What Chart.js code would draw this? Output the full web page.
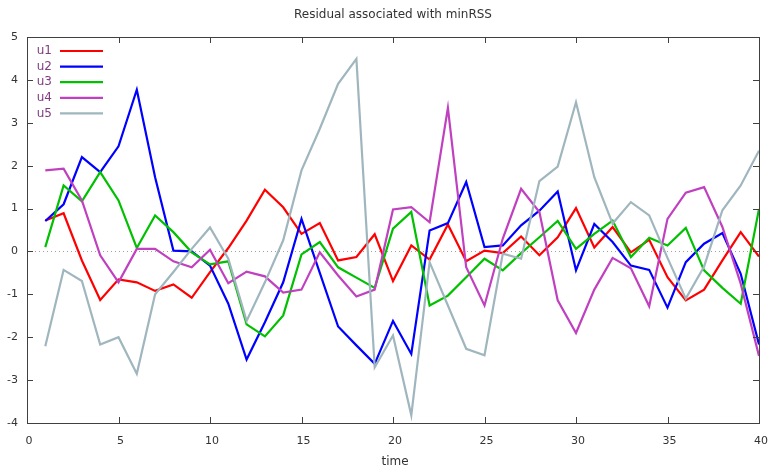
<!DOCTYPE html>
<html>
<head>
<meta charset="utf-8">
<script src="https://cdn.jsdelivr.net/npm/chart.js@4/dist/chart.umd.min.js"></script>
<style>
  html, body { margin: 0; padding: 0; background: #ffffff; }
  #wrap { width: 775px; height: 469px; position: relative; }
</style>
</head>
<body>
<div id="wrap"><canvas id="c" width="775" height="469"></canvas></div>
<script>
const chartTitle = "Residual associated with minRSS";
const xAxisTitle = "time";
const time = [1,2,3,4,5,6,7,8,9,10,11,12,13,14,15,16,17,18,19,20,21,22,23,24,25,26,27,28,29,30,31,32,33,34,35,36,37,38,39,40];
const seriesNames = ["u1", "u2", "u3", "u4", "u5"];
const u1 = [0.72, 0.89, -0.21, -1.13, -0.65, -0.72, -0.92, -0.77, -1.08, -0.48, 0.08, 0.72, 1.44, 1.03, 0.41, 0.66, -0.21, -0.13, 0.40, -0.69, 0.14, -0.19, 0.63, -0.23, 0.02, -0.04, 0.35, -0.09, 0.33, 1.01, 0.09, 0.57, -0.02, 0.27, -0.60, -1.14, -0.89, -0.21, 0.45, -0.12];
const u2 = [0.71, 1.10, 2.20, 1.85, 2.45, 3.77, 1.73, 0.02, 0.00, -0.33, -1.22, -2.52, -1.65, -0.72, 0.76, -0.50, -1.75, -2.19, -2.62, -1.62, -2.39, 0.49, 0.66, 1.62, 0.10, 0.14, 0.61, 0.95, 1.40, -0.44, 0.64, 0.22, -0.33, -0.43, -1.31, -0.25, 0.18, 0.43, -0.52, -2.17];
const u3 = [0.10, 1.54, 1.17, 1.85, 1.19, 0.08, 0.84, 0.45, -0.02, -0.30, -0.23, -1.70, -1.98, -1.49, -0.07, 0.22, -0.37, -0.61, -0.85, 0.53, 0.92, -1.26, -1.03, -0.60, -0.17, -0.44, -0.04, 0.33, 0.71, 0.06, 0.41, 0.72, -0.13, 0.32, 0.14, 0.55, -0.44, -0.85, -1.22, 0.99];
const u4 = [1.89, 1.93, 1.19, -0.09, -0.72, 0.06, 0.06, -0.23, -0.37, 0.04, -0.74, -0.47, -0.58, -0.96, -0.89, -0.02, -0.56, -1.05, -0.89, 0.98, 1.03, 0.68, 3.35, -0.37, -1.26, 0.30, 1.46, 0.92, -1.14, -1.90, -0.89, -0.15, -0.39, -1.28, 0.76, 1.37, 1.50, 0.57, -0.75, -2.44];
const u5 = [-2.21, -0.43, -0.69, -2.17, -2.00, -2.85, -1.00, -0.48, 0.06, 0.56, -0.17, -1.62, -0.72, 0.26, 1.89, 2.86, 3.91, 4.49, -2.70, -1.96, -3.82, -0.25, -1.26, -2.27, -2.42, -0.05, -0.17, 1.64, 1.98, 3.48, 1.73, 0.65, 1.15, 0.84, -0.15, -1.10, -0.35, 0.96, 1.54, 2.35];
const seriesColors = ["#ff0000", "#0000ff", "#00c000", "#c040c0", "#a0b6be"];
const xTicks = [0, 5, 10, 15, 20, 25, 30, 35, 40];
const yTicks = [-4, -3, -2, -1, 0, 1, 2, 3, 4, 5];

const allSeries = [u1, u2, u3, u4, u5];
const FONT = "'DejaVu Sans', Verdana, sans-serif";
const TEXT = "#333333";

const datasets = allSeries.map((vals, i) => ({
  label: seriesNames[i],
  data: vals.map((v, j) => ({ x: time[j], y: v })),
  borderColor: seriesColors[i],
  backgroundColor: seriesColors[i],
  borderWidth: 2.2,
  pointRadius: 0,
  tension: 0,
  fill: false,
  order: allSeries.length - i
}));

const decor = {
  id: 'decor',
  beforeDatasetsDraw(chart) {
    const { ctx, chartArea: a, scales: { y } } = chart;
    const y0 = Math.round(y.getPixelForValue(0)) + 0.5;
    ctx.save();
    ctx.strokeStyle = '#a0a0a0';
    ctx.lineWidth = 1;
    ctx.setLineDash([1, 3]);
    ctx.beginPath();
    ctx.moveTo(a.left, y0);
    ctx.lineTo(a.right, y0);
    ctx.stroke();
    ctx.restore();
  },
  afterDraw(chart) {
    const { ctx, chartArea: a, scales: { x, y } } = chart;
    ctx.save();
    ctx.strokeStyle = '#404040';
    ctx.lineWidth = 1;
    ctx.setLineDash([]);
    ctx.strokeRect(Math.round(a.left) + 0.5, Math.round(a.top) + 0.5, Math.round(a.right - a.left), Math.round(a.bottom - a.top));
    const tl = 6;
    ctx.beginPath();
    xTicks.forEach(v => {
      const px = Math.round(x.getPixelForValue(v)) + 0.5;
      ctx.moveTo(px, a.bottom); ctx.lineTo(px, a.bottom - tl);
      ctx.moveTo(px, a.top); ctx.lineTo(px, a.top + tl);
    });
    yTicks.forEach(v => {
      const py = Math.round(y.getPixelForValue(v)) + 0.5;
      ctx.moveTo(a.left, py); ctx.lineTo(a.left + tl, py);
      ctx.moveTo(a.right, py); ctx.lineTo(a.right - tl, py);
    });
    ctx.stroke();

    // x tick labels
    ctx.fillStyle = TEXT;
    ctx.font = "11px " + FONT;
    ctx.textAlign = 'center';
    ctx.textBaseline = 'middle';
    xTicks.forEach(v => {
      ctx.fillText(String(v), x.getPixelForValue(v) + 2, 441);
    });

    // title and axis title
    ctx.font = "12px " + FONT;
    ctx.fillText(chartTitle, (a.left + a.right) / 2, 15);
    ctx.fillText(xAxisTitle, (a.left + a.right) / 2 + 2, 462);

    // key
    ctx.font = "12px " + FONT;
    ctx.textAlign = 'right';
    const rowY0 = 51, rowH = 15.6;
    chart.data.datasets.forEach((ds, i) => {
      const yy = rowY0 + i * rowH;
      ctx.fillStyle = '#803c80';
      ctx.fillText(ds.label, 52, yy);
      ctx.strokeStyle = ds.borderColor;
      ctx.lineWidth = 2.2;
      ctx.beginPath();
      ctx.moveTo(60, yy); ctx.lineTo(103, yy);
      ctx.stroke();
    });
    ctx.restore();
  }
};

new Chart(document.getElementById('c'), {
  type: 'line',
  data: { datasets },
  options: {
    responsive: false,
    animation: false,
    layout: { padding: { top: 37, right: 16, left: 0, bottom: 0 } },
    plugins: { legend: { display: false }, title: { display: false }, tooltip: { enabled: false } },
    scales: {
      x: {
        type: 'linear', min: 0, max: 40,
        afterFit(s) { s.height = 46; s.paddingRight = 0; s.paddingLeft = 0; },
        afterBuildTicks(s) { s.ticks = xTicks.map(v => ({ value: v })); },
        grid: { display: false, drawTicks: false },
        border: { display: false },
        ticks: { display: false }
      },
      y: {
        type: 'linear', min: -4, max: 5,
        afterFit(s) { s.width = 27; },
        afterBuildTicks(s) { s.ticks = yTicks.map(v => ({ value: v })); },
        grid: { display: false, drawTicks: false },
        border: { display: false },
        ticks: { color: TEXT, font: { family: FONT, size: 11 }, padding: 9 }
      }
    }
  },
  plugins: [decor]
});
</script>
</body>
</html>
